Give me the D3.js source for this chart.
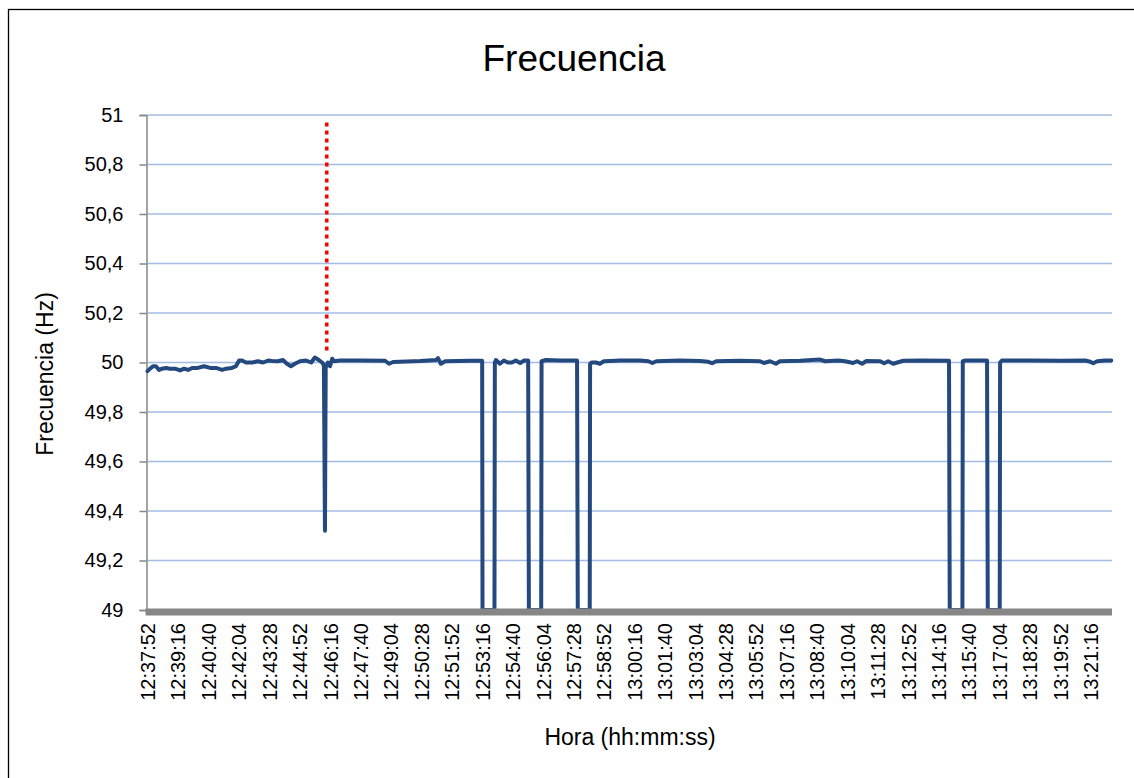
<!DOCTYPE html>
<html>
<head>
<meta charset="utf-8">
<script src="https://cdn.jsdelivr.net/npm/d3@7"></script>
<style>
  html, body { margin: 0; padding: 0; background: #fff; }
  svg { display: block; font-family: "Liberation Sans", Arial, sans-serif; }
</style>
</head>
<body>
<svg id="chart" width="1134" height="778"></svg>
<script>
// ---------------- data ----------------
const startTime = "12:37:52";
// seconds elapsed since startTime (breakpoints)
const seconds = [
  0, 7, 15, 23, 32, 40, 51, 62, 76, 90, 101, 112, 123, 139, 156, 173, 189, 206, 217, 233, 244,
  253, 261, 272, 289, 305, 319, 333, 344, 360, 374, 385, 396, 407, 421, 438, 452, 462, 473, 482,
  487, 490, 492, 498, 504, 510, 515,
  532, 587, 656, 667, 678, 753, 797, 802, 810, 822, 891, 924,
  925, 958, 959,
  962, 973, 984, 995, 1006, 1017, 1029, 1040, 1051,
  1053, 1087, 1088,
  1100, 1139, 1186,
  1188, 1221, 1222,
  1227, 1238, 1249, 1260, 1277, 1305, 1360, 1383, 1394, 1405, 1470, 1526, 1548, 1559, 1570,
  1636, 1691, 1702, 1719, 1735, 1746, 1802, 1857, 1871, 1907, 1926, 1948, 1959, 1973, 1985,
  2023, 2034, 2045, 2059, 2070, 2087, 2134, 2213,
  2215, 2250, 2251,
  2258, 2285, 2318,
  2320, 2353, 2354,
  2359, 2437, 2520, 2589, 2603, 2611, 2622, 2644, 2661
];
const frequency = [
  49.965, 49.975, 49.985, 49.985, 49.970, 49.975, 49.978, 49.975, 49.975, 49.968, 49.975, 49.970, 49.978, 49.978, 49.985, 49.978, 49.978, 49.970, 49.975, 49.978, 49.985,
  50.008, 50.008, 50.000, 50.000, 50.005, 50.000, 50.008, 50.006, 50.005, 50.010, 49.995, 49.985, 49.995, 50.005, 50.008, 50.000, 50.020, 50.010, 50.000,
  49.990, 49.320, 49.980, 50.000, 49.985, 50.015, 50.005,
  50.008, 50.008, 50.007, 49.995, 50.002, 50.006, 50.010, 50.018, 49.995, 50.005, 50.007, 50.007,
  49.000, 49.000, 50.000,
  50.010, 49.995, 50.008, 50.000, 50.000, 50.008, 49.998, 50.008, 50.008,
  49.000, 49.000, 50.005,
  50.010, 50.008, 50.008,
  49.000, 49.000, 49.995,
  50.000, 50.000, 49.995, 50.005, 50.006, 50.008, 50.008, 50.005, 49.998, 50.005, 50.008, 50.006, 50.003, 49.997, 50.005,
  50.007, 50.005, 49.998, 50.005, 49.995, 50.005, 50.007, 50.012, 50.005, 50.008, 50.005, 49.998, 50.005, 49.995, 50.006,
  50.005, 49.997, 50.005, 49.995, 50.000, 50.007, 50.008, 50.007,
  49.000, 49.000, 50.005,
  50.008, 50.008, 50.008,
  49.000, 49.000, 50.000,
  50.008, 50.008, 50.007, 50.008, 50.003, 49.997, 50.005, 50.008, 50.008
];
// red dotted marker (event instant), seconds since start, and its vertical extent in Hz
const markerSecond = [495];
const markerRange = [50.04, 50.97];

const xTickLabels = [
  "12:37:52","12:39:16","12:40:40","12:42:04","12:43:28","12:44:52","12:46:16","12:47:40",
  "12:49:04","12:50:28","12:51:52","12:53:16","12:54:40","12:56:04","12:57:28","12:58:52",
  "13:00:16","13:01:40","13:03:04","13:04:28","13:05:52","13:07:16","13:08:40","13:10:04",
  "13:11:28","13:12:52","13:14:16","13:15:40","13:17:04","13:18:28","13:19:52","13:21:16"
];
const xTickStep = 84;     // seconds between labels
const totalSeconds = 2663;
const yTicks = [49, 49.2, 49.4, 49.6, 49.8, 50, 50.2, 50.4, 50.6, 50.8, 51];

const title = "Frecuencia";
const xTitle = "Hora (hh:mm:ss)";
const yTitle = "Frecuencia (Hz)";

// ---------------- drawing ----------------
const svg = d3.select("#chart");
const plot = { left: 147.5, right: 1112, top: 115, bottom: 610 };

const x = d3.scaleLinear().domain([0, totalSeconds]).range([plot.left, plot.right]);
const y = d3.scaleLinear().domain([49, 51]).range([plot.bottom, plot.top]);

// outer border (frame continues past the right and bottom edges of the picture)
svg.append("rect")
  .attr("x", 8.5).attr("y", 9.5).attr("width", 1140).attr("height", 790)
  .attr("fill", "none").attr("stroke", "#000").attr("stroke-width", 1.3);

// title
svg.append("text")
  .attr("x", 574).attr("y", 71)
  .attr("text-anchor", "middle")
  .attr("font-size", 37).attr("fill", "#000")
  .text(title);

// gridlines
svg.append("g")
  .selectAll("line")
  .data(yTicks.filter(d => d > 49))
  .join("line")
  .attr("x1", plot.left).attr("x2", plot.right)
  .attr("y1", d => y(d)).attr("y2", d => y(d))
  .attr("stroke", "#a3bce4").attr("stroke-width", 1.5);

// y axis
const yAxis = d3.axisLeft(y)
  .tickValues(yTicks)
  .tickSize(7)
  .tickPadding(16)
  .tickFormat(d => d3.format(".1f")(d).replace(/\.0$/, "").replace(".", ","));
const gy = svg.append("g")
  .attr("transform", `translate(${plot.left - 1},0)`)
  .call(yAxis);
gy.select(".domain").attr("stroke", "#868686").attr("stroke-width", 1.5);
gy.selectAll(".tick line").attr("stroke", "#868686").attr("stroke-width", 1.5);
gy.selectAll(".tick text")
  .attr("font-size", 20).attr("fill", "#000")
  .attr("font-family", "Liberation Sans, Arial, sans-serif");

// marker (red dotted)
svg.append("line")
  .attr("x1", x(markerSecond[0])).attr("x2", x(markerSecond[0]))
  .attr("y1", y(markerRange[1])).attr("y2", y(markerRange[0]))
  .attr("stroke", "#ff0000").attr("stroke-width", 3.5)
  .attr("stroke-dasharray", "4,4");

// series line
const pts = seconds.map((s, i) => [s, frequency[i]]);
const line = d3.line().x(d => x(d[0])).y(d => y(d[1]));
svg.append("path")
  .datum(pts)
  .attr("d", line)
  .attr("fill", "none")
  .attr("stroke", "#24497f")
  .attr("stroke-width", 4)
  .attr("stroke-linejoin", "round")
  .attr("stroke-linecap", "round");

// x axis (thick gray bar)
const xTickVals = xTickLabels.map((d, i) => i * xTickStep);
const xAxis = d3.axisBottom(x)
  .tickValues(xTickVals)
  .tickSize(0)
  .tickFormat((d, i) => xTickLabels[i]);
const gx = svg.append("g")
  .attr("transform", `translate(0,${plot.bottom + 2})`)
  .call(xAxis);
gx.select(".domain").remove();
svg.append("line")
  .attr("x1", plot.left - 2).attr("x2", plot.right)
  .attr("y1", plot.bottom + 2).attr("y2", plot.bottom + 2)
  .attr("stroke", "#868686").attr("stroke-width", 7);
gx.selectAll(".tick text")
  .attr("font-size", 20).attr("fill", "#000")
  .attr("font-family", "Liberation Sans, Arial, sans-serif")
  .attr("text-anchor", "end")
  .attr("transform", "translate(0,11) rotate(-90)")
  .attr("x", 0).attr("y", 0).attr("dy", "0.35em");

// axis titles
svg.append("text")
  .attr("x", 630).attr("y", 745)
  .attr("text-anchor", "middle")
  .attr("font-size", 23).attr("fill", "#000")
  .text(xTitle);
svg.append("text")
  .attr("transform", "translate(53,374) rotate(-90)")
  .attr("text-anchor", "middle")
  .attr("font-size", 23).attr("fill", "#000")
  .text(yTitle);
</script>
</body>
</html>
